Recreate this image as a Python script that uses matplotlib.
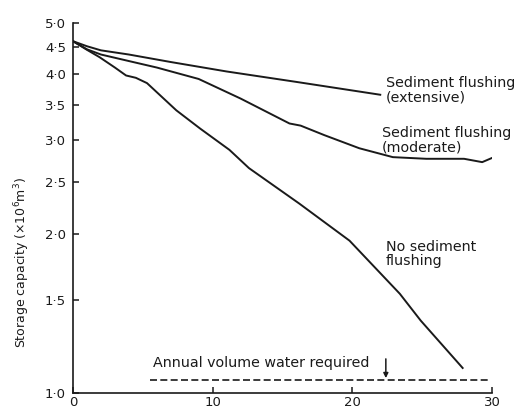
import matplotlib
matplotlib.use("Agg")
import matplotlib.pyplot as plt
from matplotlib.ticker import FixedLocator, NullLocator

# years after impoundment / storage capacity (10^6 m^3)
years_ext = [0, 1, 2, 4, 7, 11, 16, 22]
cap_ext = [4.62, 4.52, 4.44, 4.36, 4.22, 4.05, 3.87, 3.66]

years_mod = [0, 1, 2, 4.3, 6, 9, 12, 15.5, 16.3, 18, 20.5, 22.9, 25.3, 28, 29.3, 30]
cap_mod = [4.62, 4.46, 4.36, 4.22, 4.12, 3.92, 3.6, 3.23, 3.2, 3.07, 2.9, 2.79, 2.77, 2.77, 2.73, 2.78]

years_none = [0, 1, 1.9, 3, 3.8, 4.5, 5.3, 7.4, 9.1, 11.2, 12.6, 16.2, 19.8, 23.4, 24.9, 27.9]
cap_none = [4.62, 4.45, 4.31, 4.12, 3.98, 3.94, 3.85, 3.42, 3.16, 2.88, 2.66, 2.28, 1.94, 1.54, 1.37, 1.115]

demand_years = [5.5, 29.8]
demand = [1.06, 1.06]

yticks = [1.0, 1.5, 2.0, 2.5, 3.0, 3.5, 4.0, 4.5, 5.0]
ytick_labels = ["1·0", "1·5", "2·0", "2·5", "3·0", "3·5", "4·0", "4·5", "5·0"]
xticks = [0, 10, 20, 30]

fig = plt.figure(figsize=(5.22, 4.12), dpi=100)
ax = fig.add_axes([0.1398, 0.0461, 0.8027, 0.898])

ink = "#1a1a1a"
ax.plot(years_ext, cap_ext, color=ink, lw=1.4)
ax.plot(years_mod, cap_mod, color=ink, lw=1.4)
ax.plot(years_none, cap_none, color=ink, lw=1.4)
ax.plot(demand_years, demand, color=ink, lw=1.2, dashes=(4.2, 2))

ax.annotate("", xy=(22.4, 1.067), xytext=(22.4, 1.16),
            arrowprops=dict(arrowstyle="-|>", color=ink, lw=1.1,
                            mutation_scale=7, shrinkA=0, shrinkB=0))

ax.set_yscale("log")
ax.set_xlim(0, 30)
ax.set_ylim(1.0, 5.0)
ax.yaxis.set_major_locator(FixedLocator(yticks))
ax.yaxis.set_minor_locator(NullLocator())
ax.set_yticklabels(ytick_labels)
ax.set_xticks(xticks)
ax.set_xticklabels([str(t) for t in xticks])

for side in ("top", "right"):
    ax.spines[side].set_visible(False)
for side in ("left", "bottom"):
    ax.spines[side].set_color(ink)
    ax.spines[side].set_linewidth(1.2)
ax.tick_params(direction="in", length=4, width=1.1, color=ink,
               labelsize=9.5, labelcolor=ink, pad=5)
ax.tick_params(axis="x", pad=2)

ax.set_ylabel("Storage capacity (×10$^6$m$^3$)", fontsize=9, color=ink)
ax.yaxis.set_label_coords(-0.097, 0.354)

txt = dict(fontsize=10.3, color=ink, va="center", ha="left", linespacing=1.0)
ax.text(22.4, 3.73, "Sediment flushing\n(extensive)", **txt)
ax.text(22.1, 3.0, "Sediment flushing\n(moderate)", **txt)
ax.text(22.4, 1.83, "No sediment\nflushing", **txt)
ax.text(5.7, 1.14, "Annual volume water required", **txt)

fig.savefig("out.png", dpi=100)
